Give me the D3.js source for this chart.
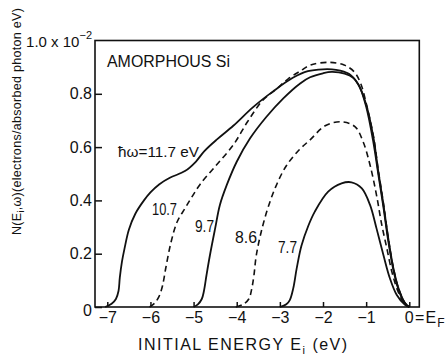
<!DOCTYPE html>
<html><head><meta charset="utf-8">
<script src="https://cdn.jsdelivr.net/npm/d3@7"></script>
<style>
html,body{margin:0;padding:0;background:#fff;}
svg text{font-family:"Liberation Sans",Arial,sans-serif;fill:#111;}
</style></head>
<body>
<svg id="chart" width="448" height="356"></svg>
<script>
// ---- data (E_i in eV, N in units of 1e-2 electrons/absorbed photon eV) ----
const xTicks = [-7, -6, -5, -4, -3, -2, -1, 0];
const yTicks = [0, 0.2, 0.4, 0.6, 0.8];
const photonEnergies = ["11.7", "10.7", "9.7", "8.6", "7.7"];
const curve117 = [[-7.05,0],[-6.9,0.012],[-6.8,0.03],[-6.74,0.06],[-6.71,0.11],[-6.66,0.17],[-6.6,0.22],[-6.5,0.29],[-6.35,0.35],[-6.15,0.40],[-6.0,0.43],[-5.8,0.46],[-5.55,0.485],[-5.2,0.51],[-4.95,0.545],[-4.75,0.585],[-4.45,0.63],[-4.08,0.68],[-3.62,0.75],[-3.15,0.81],[-2.7,0.86],[-2.35,0.885],[-2.0,0.892],[-1.7,0.89],[-1.4,0.875],[-1.18,0.835],[-1.0,0.76],[-0.83,0.635],[-0.72,0.51],[-0.6,0.385],[-0.49,0.26],[-0.37,0.147],[-0.25,0.07],[-0.1,0.015],[0,0]];
const curve107 = [[-6.02,0],[-5.9,0.015],[-5.8,0.04],[-5.72,0.08],[-5.64,0.15],[-5.52,0.245],[-5.38,0.32],[-5.2,0.37],[-5.05,0.41],[-4.85,0.46],[-4.47,0.533],[-4.08,0.608],[-3.75,0.695],[-3.4,0.775],[-3.1,0.815],[-2.8,0.857],[-2.52,0.886],[-2.29,0.908],[-1.86,0.918],[-1.51,0.908],[-1.28,0.883],[-1.13,0.84],[-1.0,0.765],[-0.83,0.64],[-0.72,0.515],[-0.6,0.39],[-0.49,0.262],[-0.37,0.148],[-0.25,0.07],[-0.1,0.015],[0,0]];
const curve97 = [[-5.0,0],[-4.9,0.01],[-4.81,0.03],[-4.76,0.06],[-4.7,0.12],[-4.62,0.195],[-4.5,0.295],[-4.39,0.383],[-4.23,0.458],[-4.0,0.545],[-3.69,0.633],[-3.31,0.714],[-2.92,0.783],[-2.53,0.839],[-2.3,0.862],[-2.0,0.877],[-1.8,0.882],[-1.5,0.876],[-1.3,0.86],[-1.15,0.825],[-1.0,0.752],[-0.84,0.625],[-0.72,0.5],[-0.6,0.375],[-0.49,0.25],[-0.37,0.14],[-0.25,0.065],[-0.1,0.013],[0,0]];
const curve86 = [[-4.02,0],[-3.85,0.01],[-3.72,0.03],[-3.65,0.07],[-3.6,0.12],[-3.55,0.19],[-3.45,0.27],[-3.3,0.36],[-3.1,0.45],[-2.85,0.53],[-2.55,0.59],[-2.3,0.627],[-1.95,0.68],[-1.57,0.695],[-1.26,0.677],[-1.07,0.62],[-0.91,0.533],[-0.76,0.42],[-0.64,0.31],[-0.52,0.22],[-0.4,0.13],[-0.27,0.062],[-0.12,0.013],[0,0]];
const curve77 = [[-3.0,0],[-2.85,0.01],[-2.77,0.026],[-2.69,0.07],[-2.61,0.145],[-2.5,0.23],[-2.34,0.305],[-2.19,0.358],[-1.88,0.433],[-1.57,0.464],[-1.34,0.468],[-1.1,0.445],[-0.91,0.383],[-0.76,0.295],[-0.6,0.195],[-0.45,0.108],[-0.29,0.045],[-0.1,0.008],[0,0]];

const series = [
  {name: photonEnergies[0], pts: curve117, dashed: false},
  {name: photonEnergies[1], pts: curve107, dashed: true},
  {name: photonEnergies[2], pts: curve97,  dashed: false},
  {name: photonEnergies[3], pts: curve86,  dashed: true},
  {name: photonEnergies[4], pts: curve77,  dashed: false}
];

const svg = d3.select("#chart");
const x = d3.scaleLinear().domain([-7.285, 0.232]).range([95, 419.3]);
const y = d3.scaleLinear().domain([0, 1.0]).range([307, 40.5]);

// frame
svg.append("rect").attr("x", x.range()[0]).attr("y", y.range()[1])
  .attr("width", x.range()[1]-x.range()[0]).attr("height", y.range()[0]-y.range()[1])
  .attr("fill","none").attr("stroke","#111").attr("stroke-width",1.6);

// y axis
const gy = svg.append("g").attr("transform",`translate(${x.range()[0]},0)`)
  .call(d3.axisLeft(y).tickValues(yTicks).tickSize(-7).tickPadding(3)
        .tickFormat(d => d === 0 ? "0" : d3.format(".1f")(d)));
gy.select(".domain").remove();
gy.selectAll(".tick line").attr("stroke","#111").attr("stroke-width",1.5);
gy.selectAll(".tick text").attr("font-size",16).style("font-family","Liberation Sans, Arial, sans-serif").attr("fill","#111");
gy.selectAll(".tick text").filter(d => d === 0).attr("dy","0.55em");

// x axis
const gx = svg.append("g").attr("transform",`translate(0,${y.range()[0]})`)
  .call(d3.axisBottom(x).tickValues(xTicks).tickSize(-5).tickPadding(5)
        .tickFormat(d => d === 0 ? "" : "\u2212" + Math.abs(d)));
gx.select(".domain").remove();
gx.selectAll(".tick line").attr("stroke","#111").attr("stroke-width",1.5);
gx.selectAll(".tick text").attr("font-size",16).style("font-family","Liberation Sans, Arial, sans-serif").attr("fill","#111");

// "0=E_F"
const ef = svg.append("text").attr("x", x(0)-4.5).attr("y", 323).attr("font-size",16).attr("letter-spacing",1.2);
ef.append("tspan").text("0=E");
ef.append("tspan").attr("font-size",12).attr("dy",4).text("F");

// "1.0 x 10^-2"
const topLab = svg.append("text").attr("x", 92).attr("y", y(1.0)+6).attr("font-size",15).attr("text-anchor","end");
topLab.append("tspan").text("1.0 x 10");
topLab.append("tspan").attr("font-size",11).attr("dy",-8).text("\u22122");

// curves
const line = d3.line().x(d => x(d[0])).y(d => y(d[1])).curve(d3.curveCatmullRom.alpha(0.5));
svg.append("g").selectAll("path").data(series).join("path")
  .attr("d", d => line(d.pts))
  .attr("fill","none").attr("stroke","#111")
  .attr("stroke-width", d => d.dashed ? 1.6 : 1.8)
  .attr("stroke-dasharray", d => d.dashed ? "6,4" : null)
  .attr("stroke-linejoin","round");

// curve labels
svg.append("text").attr("x",107).attr("y",67).attr("font-size",16)
  .attr("textLength",123).attr("lengthAdjust","spacingAndGlyphs").text("AMORPHOUS  Si");
svg.append("text").attr("x",118).attr("y",157).attr("font-size",15)
  .attr("textLength",81).attr("lengthAdjust","spacingAndGlyphs").text("\u0127\u03c9=11.7 eV");
const lab = [
  {t: photonEnergies[1], x: 152, y: 215, w: 25},
  {t: photonEnergies[2], x: 195, y: 232, w: 19},
  {t: photonEnergies[3], x: 235, y: 243, w: 22},
  {t: photonEnergies[4], x: 278, y: 253, w: 19}
];
svg.append("g").selectAll("text").data(lab).join("text")
  .attr("x", d => d.x).attr("y", d => d.y).attr("font-size",16)
  .attr("textLength", d => d.w).attr("lengthAdjust","spacingAndGlyphs").text(d => d.t);

// axis titles
const xt = svg.append("text").attr("x",138).attr("y",350).attr("font-size",16).attr("letter-spacing",1.5);
xt.append("tspan").text("INITIAL ENERGY E");
xt.append("tspan").attr("font-size",11).attr("dy",4).text("i");
xt.append("tspan").attr("dy",-4).text(" (eV)");

const yt = svg.append("text").attr("transform","translate(21,235) rotate(-90)").attr("font-size",12.5)
  .attr("letter-spacing",0.3);
yt.append("tspan").text("N(E");
yt.append("tspan").attr("font-size",9).attr("dy",3).text("i");
yt.append("tspan").attr("dy",-3).text(",\u03c9)(electrons/absorbed photon eV)");
</script>
</body></html>
